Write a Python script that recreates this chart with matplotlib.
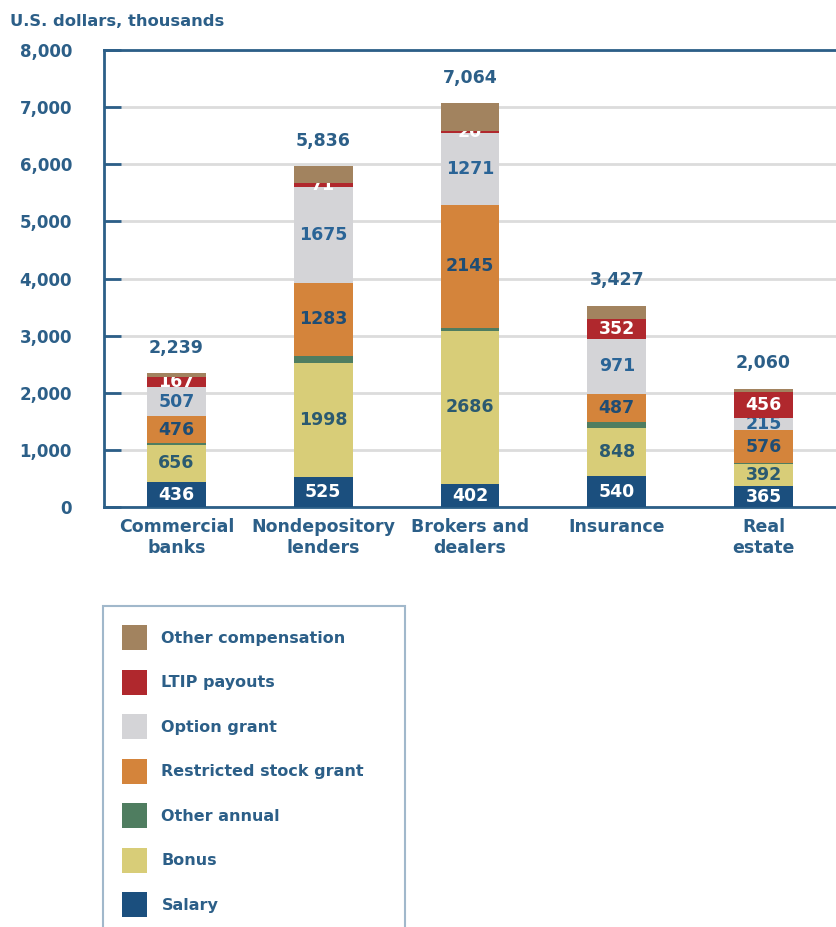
import matplotlib
matplotlib.use('Agg')
import matplotlib.pyplot as plt
import numpy as np

plt.rcParams['font.family'] = ['DejaVu Sans']

# Dữ liệu
categories = ['Commercial\nbanks', 'Nondepository\nlenders', 'Brokers and\ndealers', 'Insurance', 'Real\nestate']
salary = [436, 525, 402, 540, 365]
bonus = [656, 1998, 2686, 848, 392]
other_annual = [25, 120, 50, 100, 10]
restricted = [476, 1283, 2145, 487, 576]
option = [507, 1675, 1271, 971, 215]
ltip = [167, 71, 20, 352, 456]
other_comp = [70, 290, 490, 225, 56]
totals = [2239, 5836, 7064, 3427, 2060]

series = [
    ('Salary', salary, '#1b4f7e', 'white', True),
    ('Bonus', bonus, '#d8cd78', '#2b5a70', True),
    ('Other annual', other_annual, '#4f7d60', None, False),
    ('Restricted stock grant', restricted, '#d4843b', '#1f4d74', True),
    ('Option grant', option, '#d4d4d7', '#2a6496', True),
    ('LTIP payouts', ltip, '#b0282d', 'white', True),
    ('Other compensation', other_comp, '#a2835f', None, False),
]

txt = '#2c5f88'
fig = plt.figure(figsize=(8.36, 9.27), dpi=100)
ax = fig.add_axes([104 / 836, 1 - 507 / 927, 1 - 104 / 836 + 0.01, 457 / 927])

x = np.arange(len(categories))
bottom = np.zeros(len(categories))
handles = []
last = None
for name, vals, col, lcol, show in series:
    bars = ax.bar(x, vals, 0.40, bottom=bottom, color=col, label=name, zorder=3)
    if show:
        ax.bar_label(bars, labels=[str(v) for v in vals], label_type='center',
                     color=lcol, fontweight='bold', fontsize=12.5)
    bottom += np.array(vals)
    handles.append(bars)
    last = bars

# tổng trên đầu cột
ax.bar_label(last, labels=[f'{t:,}' for t in totals], padding=12,
             color=txt, fontweight='bold', fontsize=12.5)

ax.set_xlim(-0.493, 4.55)
ax.set_ylim(0, 8000)
ax.set_yticks(range(0, 8001, 1000))
ax.set_yticklabels([f'{v:,}' for v in range(0, 8001, 1000)])
ax.set_xticks(x)
ax.set_xticklabels(categories)
ax.tick_params(axis='y', direction='in', length=12, width=2, color=txt, pad=23,
               labelcolor=txt, labelsize=12)
ax.tick_params(axis='x', length=0, pad=8, labelcolor=txt, labelsize=12.5)
for lab in ax.get_xticklabels() + ax.get_yticklabels():
    lab.set_fontweight('bold')
ax.grid(axis='y', color='#dcdcdc', linewidth=2, zorder=0)
for s in ['left', 'top', 'bottom']:
    ax.spines[s].set_color(txt)
    ax.spines[s].set_linewidth(2)
ax.spines['right'].set_visible(False)

fig.text(10 / 836, 1 - 22 / 927, 'U.S. dollars, thousands', ha='left', va='center',
         color=txt, fontweight='bold', fontsize=11.8)

leg = fig.legend(handles[::-1], [s[0] for s in series][::-1], loc='upper left',
                 bbox_to_anchor=(103 / 836, 0.02, 302 / 836, 1 - 606 / 927 - 0.02),
                 mode='expand', borderaxespad=0, fontsize=11.5, handlelength=1.56,
                 handleheight=2.03, labelspacing=1.22, handletextpad=0.9,
                 borderpad=1.2, fancybox=False, edgecolor='#8aa6bf')
leg.get_frame().set_linewidth(1.5)
for t in leg.get_texts():
    t.set_color(txt)
    t.set_fontweight('bold')

plt.savefig('out.png', dpi=100)
